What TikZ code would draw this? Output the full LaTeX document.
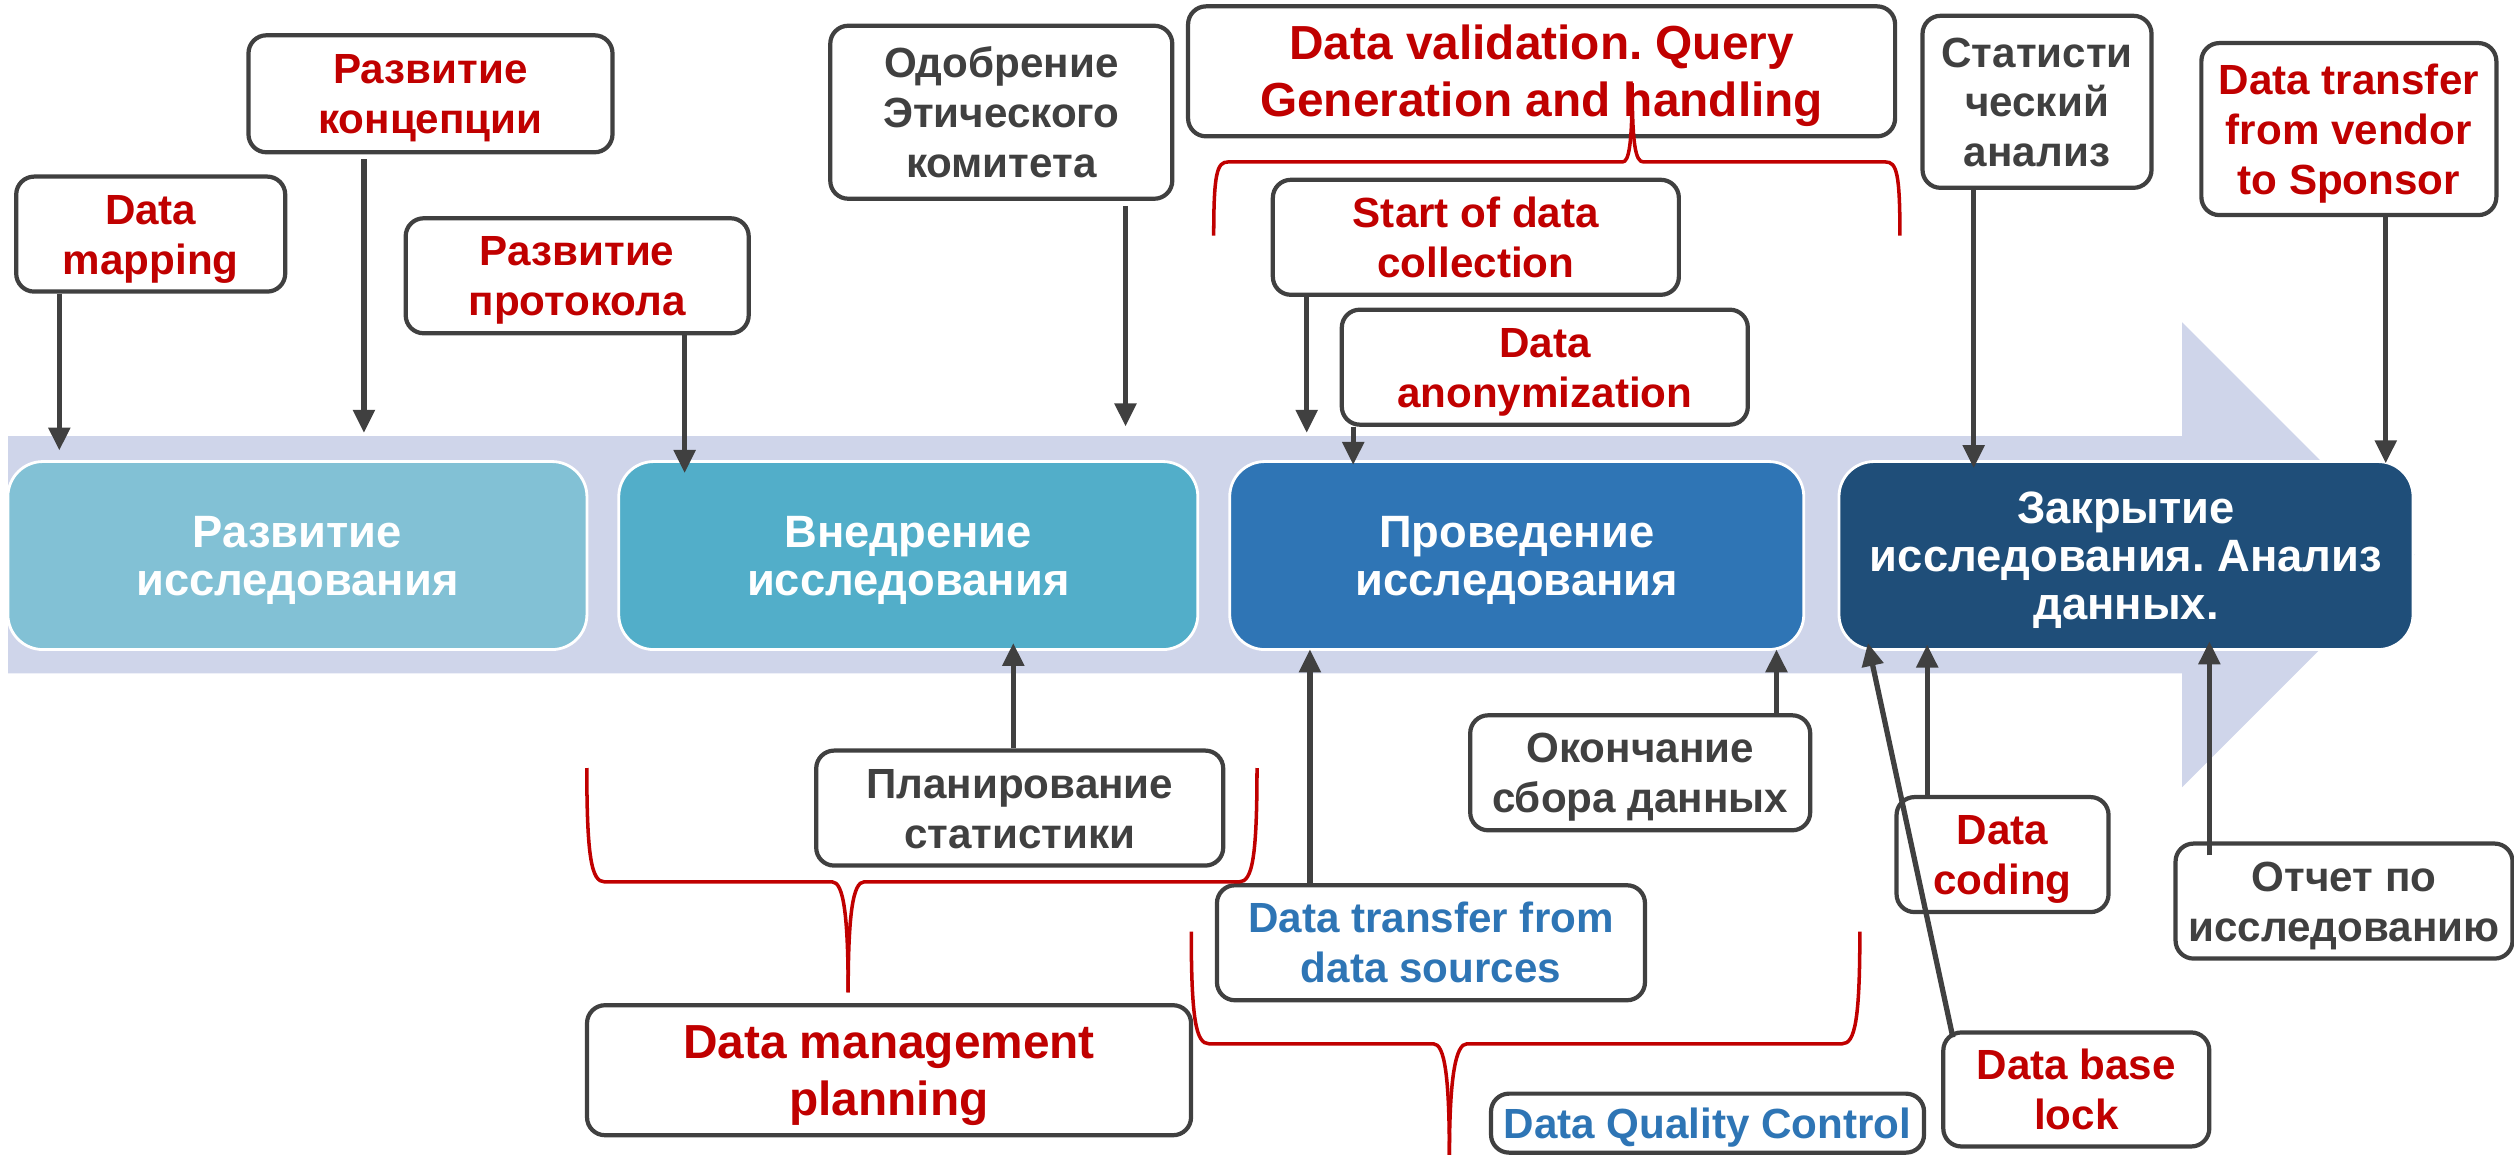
\documentclass[tikz,border=0pt]{standalone}
\usepackage{fontspec}
\setmainfont{Liberation Sans}
\usetikzlibrary{arrows.meta}
\definecolor{dred}{HTML}{C00000}
\definecolor{dgray}{HTML}{404040}
\definecolor{tblue}{HTML}{2E75B5}
\definecolor{band}{HTML}{CFD5EA}
\definecolor{ph1}{HTML}{82C1D5}
\definecolor{ph2}{HTML}{52AEC9}
\definecolor{ph3}{HTML}{2F75B5}
\definecolor{ph4}{HTML}{1F4E79}
\frenchspacing
% text block: reported height = cap height, depth = (lines-1) baselines
\newcommand\tl[2]{\raisebox{0pt}[0.716em][#1\baselineskip]{\begin{tabular}[t]{@{}c@{}}#2\end{tabular}}}
\begin{document}
\begin{tikzpicture}[x=0.16033mm,y=-0.16033mm,
  callout/.style={draw=dgray, line width=1.2pt, rounded corners=1.8mm, fill=white, inner sep=0pt,
    font=\fontsize{12}{14.2}\selectfont\bfseries},
  bigcallout/.style={callout, font=\fontsize{13.6}{16.2}\selectfont\bfseries},
  phase/.style={draw=white, line width=0.8pt, rounded corners=3.5mm, text=white, inner sep=0pt,
    minimum height=18.8mm, font=\fontsize{12.9}{13.6}\selectfont\bfseries},
  arr/.style={draw=dgray, line width=1.5pt, -{Triangle[length=2.3mm,width=2.1mm]}},
  brace/.style={draw=dred, line width=1pt}]
\useasboundingbox (0,0) rectangle (1568,720);

% background arrow
\fill[band] (5,272) -- (1361,272) -- (1361,201) -- (1506,346) -- (1361,491) -- (1361,420) -- (5,420) -- cycle;

% phases
\node[phase, fill=ph1, minimum width=57.9mm] (p1) at (185.5,346.5) {\tl{1}{Развитие\\исследования}};
\node[phase, fill=ph2, minimum width=57.9mm] (p2) at (566.5,346.5) {\tl{1}{Внедрение\\исследования}};
\node[phase, fill=ph3, minimum width=57.4mm] (p3) at (946,346.5) {\tl{1}{Проведение\\исследования}};
\node[phase, fill=ph4, minimum width=57.4mm] (p4) at (1326,346.5) {\tl{2}{Закрытие\\исследования. Анализ\\данных.}};

% top callouts
\node[callout, text=dred, minimum width=26.9mm, minimum height=11.5mm] (dmap) at (94,146) {\tl{1}{Data\\mapping}};
\node[callout, text=dred, minimum width=36.4mm, minimum height=11.7mm] (concept) at (268.5,58.5) {\tl{1}{Развитие\\концепции}};
\node[callout, text=dred, minimum width=34.3mm, minimum height=11.5mm] (protocol) at (360,172) {\tl{1}{Развитие\\протокола}};
\node[callout, text=dgray, minimum width=34.2mm, minimum height=17.3mm] (ethics) at (624.5,70) {\tl{2}{Одобрение\\Этического\\комитета}};
\node[bigcallout, text=dred, minimum width=70.7mm, minimum height=13.0mm] (valid) at (961.5,44.5) {\tl{1}{Data validation. Query\\Generation and handling}};
\node[callout, text=dred, minimum width=40.6mm, minimum height=11.5mm] (start) at (920.5,148) {\tl{1}{Start of data\\collection}};
\node[callout, text=dred, minimum width=40.6mm, minimum height=11.5mm] (anon) at (963.5,229) {\tl{1}{Data\\anonymization}};
\node[callout, text=dgray, minimum width=22.9mm, minimum height=17.2mm] (stat) at (1270.5,63.5) {\tl{2}{Статисти\\ческий\\анализ}};
\node[callout, text=dred, minimum width=29.5mm, minimum height=17.2mm] (vendor) at (1465,80.5) {\tl{2}{Data transfer\\from vendor\\to Sponsor}};

% bottom callouts
\node[callout, text=dgray, minimum width=40.7mm, minimum height=11.5mm] (planstat) at (636,504) {\tl{1}{Планирование\\статистики}};
\node[bigcallout, text=dred, minimum width=60.4mm, minimum height=13.0mm] (dmp) at (554.5,667.5) {\tl{1}{Data management\\planning}};
\node[callout, text=dgray, minimum width=34.0mm, minimum height=11.5mm] (endcol) at (1023,482) {\tl{1}{Окончание\\сбора данных}};
\node[callout, text=tblue, minimum width=42.8mm, minimum height=11.5mm] (transfer) at (892.5,588) {\tl{1}{Data transfer from\\data sources}};
\node[callout, text=tblue, minimum width=43.3mm, minimum height=5.9mm] (dqc) at (1065,700.5) {\tl{0}{Data Quality Control}};
\node[callout, text=dred, minimum width=21.2mm, minimum height=11.5mm] (coding) at (1249,533) {\tl{1}{Data\\coding}};
\node[callout, text=dred, minimum width=26.6mm, minimum height=11.4mm] (lock) at (1295,679.5) {\tl{1}{Data base\\lock}};
\node[callout, text=dgray, minimum width=33.7mm, minimum height=11.5mm] (report) at (1462,562) {\tl{1}{Отчет по\\исследованию}};

% arrow end points
\coordinate (t1) at (37,281);
\coordinate (t2) at (227,270);
\coordinate (t3) at (427,295);
\coordinate (t4) at (702,266);
\coordinate (t5) at (815,270);
\coordinate (t6) at (844,290);
\coordinate (t7) at (1231,292);
\coordinate (t8) at (1488,289);
\coordinate (b1) at (632,401);
\coordinate (b2) at (1108,405);
\coordinate (b3) at (817,405);
\coordinate (b4) at (1202,402);
\coordinate (b5) at (1165,401);
\coordinate (b6) at (1378,400);
\coordinate (l0) at (1218,647);

% arrows
\draw[arr] (dmap.south -| t1) -- (t1);
\draw[arr] ([yshift=-0.5mm]concept.south -| t2) -- (t2);
\draw[arr] (protocol.south -| t3) -- (t3);
\draw[arr] ([yshift=-0.5mm]ethics.south -| t4) -- (t4);
\draw[arr] (start.south -| t5) -- (t5);
\draw[arr] (anon.south -| t6) -- (t6);
\draw[arr] (stat.south -| t7) -- (t7);
\draw[arr] (vendor.south -| t8) -- (t8);
\draw[arr] (planstat.north -| b1) -- (b1);
\draw[arr] (endcol.north -| b2) -- (b2);
\draw[arr] (transfer.north -| b3) -- (b3);
\draw[arr] (coding.north -| b4) -- (b4);
\draw[arr] (l0) -- (b5);
\draw[arr] ([yshift=-1.4mm]report.north -| b6) -- (b6);

% braces
\draw[brace] (757,147) .. controls (757,108) and (759,101) .. (766,101) -- (1012,101) .. controls (1016,101) and (1018,90) .. (1018,52);
\draw[brace] (1185,147) .. controls (1185,108) and (1183,101) .. (1176,101) -- (1025,101) .. controls (1020,101) and (1018,90) .. (1018,52);

\draw[brace] (366,479) .. controls (366,535) and (369,550) .. (377,550) -- (519,550) .. controls (526,550) and (529,570) .. (529,619);
\draw[brace] (784,479) .. controls (784,535) and (781,550) .. (773,550) -- (539,550) .. controls (532,550) and (529,570) .. (529,619);

\draw[brace] (743,581) .. controls (743,636) and (746,651) .. (754,651) -- (894,651) .. controls (901,651) and (904,671) .. (904,722);
\draw[brace] (1160,581) .. controls (1160,636) and (1157,651) .. (1149,651) -- (915,651) .. controls (908,651) and (904,671) .. (904,722);
\end{tikzpicture}
\end{document}
